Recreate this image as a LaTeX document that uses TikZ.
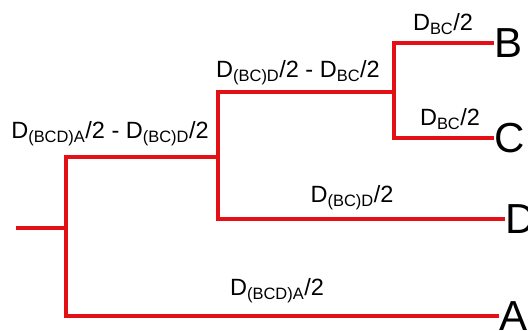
\documentclass[tikz,border=0pt]{standalone}
\usepackage{fontspec}
\setmainfont{Liberation Sans}
\definecolor{treered}{RGB}{228,16,22}
\newcommand{\lsub}[1]{\textsubscript{#1}}
\begin{document}
\begin{tikzpicture}[x=1pt,y=-1pt,
  branch/.style={draw=treered,line width=3.5pt,line join=miter},
  leaf/.style={anchor=west,inner sep=0pt,xshift=4pt,font=\fontsize{42}{42}\selectfont},
  blabel/.style={inner sep=0pt,font=\fontsize{23.5}{25}\selectfont}]
  \useasboundingbox (0,0) rectangle (528,330);

  % internal split points and the stem
  \coordinate (stem) at (16,228);
  \coordinate (n1) at (66,228);
  \coordinate (n2) at (218,157);
  \coordinate (n3) at (394,92);

  % leaves
  \node[leaf] (B) at (490,43) {B};
  \node[leaf] (C) at (490,138) {C};
  \node[leaf] (D) at (501,219) {D};
  \node[leaf] (A) at (495,316) {A};

  % branches
  \draw[branch] (stem) -- (n1);
  \draw[branch] (n1) |- (n2);
  \draw[branch] (n1) |- (A.west);
  \draw[branch] (n2) |- (n3);
  \draw[branch] (n2) |- (D.west);
  \draw[branch] (n3) |- (B.west);
  \draw[branch] (n3) |- (C.west);

  % branch lengths
  \node[blabel] (lB) at (443,24) {D\lsub{BC}/2};
  \node[blabel] (lC) at (450,119) {D\lsub{BC}/2};
  \node[blabel] (lBC) at (298,73) {D\lsub{(BC)D}/2 - D\lsub{BC}/2};
  \node[blabel] (lBCD) at (110,134) {D\lsub{(BCD)A}/2 - D\lsub{(BC)D}/2};
  \node[blabel] (lD) at (352,198) {D\lsub{(BC)D}/2};
  \node[blabel] (lA) at (277,291) {D\lsub{(BCD)A}/2};
\end{tikzpicture}
\end{document}
